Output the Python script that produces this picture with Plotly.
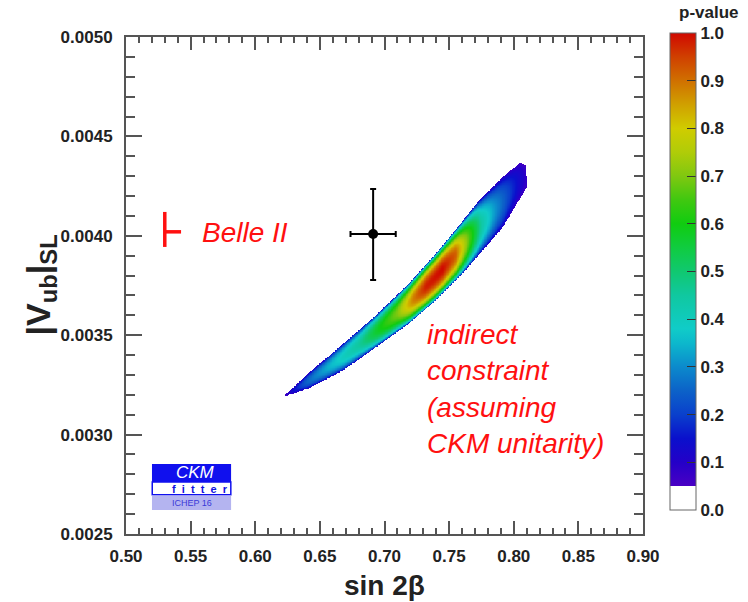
import numpy as np
import plotly.graph_objects as go

# ---- data ----
# boundary of the indirect-constraint region (p-value = 0.05 contour)
upper_x = [0.6215, 0.6416, 0.6679, 0.6934, 0.7190, 0.7398, 0.7545, 0.7723, 0.7917, 0.8048, 0.8095, 0.8105]
upper_y = [0.003189, 0.003310, 0.003456, 0.003600, 0.003760, 0.003910, 0.004025, 0.004170, 0.004296, 0.004366, 0.004356, 0.004247]
lower_x = [0.6215, 0.6416, 0.6679, 0.6934, 0.7190, 0.7398, 0.7607, 0.7917, 0.8105]
lower_y = [0.003189, 0.003232, 0.003322, 0.003438, 0.003558, 0.003675, 0.003811, 0.004042, 0.004247]
# p-value along the ridge of the region
ridge_x = [0.6215, 0.64, 0.66, 0.68, 0.695, 0.71, 0.722, 0.732, 0.745, 0.755, 0.765, 0.775, 0.785, 0.80, 0.8105]
ridge_p = [0.06, 0.25, 0.36, 0.45, 0.58, 0.70, 0.88, 0.98, 1.00, 0.92, 0.68, 0.45, 0.32, 0.17, 0.08]

# measurement point (black) with errors
meas_x = [0.6912]
meas_y = [0.004009]
meas_ex = [0.0175]
meas_ey_plus = [0.000226]
meas_ey_minus = [0.000231]

# Belle II marker
belle_x = [0.530, 0.530, None, 0.530, 0.5426]
belle_y = [0.003944, 0.004120, None, 0.00402, 0.00402]

cbar_ticks = [0.0, 0.1, 0.2, 0.3, 0.4, 0.5, 0.6, 0.7, 0.8, 0.9, 1.0]

# ---- build the p-value map ----
gx = np.linspace(0.615, 0.815, 361)
gy = np.linspace(0.00315, 0.0044, 401)
up = np.interp(gx, upper_x, upper_y)
lo = np.interp(gx, lower_x, lower_y)
g = np.interp(gx, ridge_x, ridge_p)
X, Y = np.meshgrid(gx, gy)
UP = up[None, :]
LO = lo[None, :]
G = g[None, :]
mid = (UP + LO) / 2
half = np.maximum((UP - LO) / 2, 1e-9)
t = (Y - mid) / half
inside = (np.abs(t) <= 1) & (X >= upper_x[0]) & (X <= upper_x[-1])
P = 0.05 + (G - 0.05) * np.clip(1 - t ** 2, 0, 1) ** 0.55
Z = np.where(inside, np.round(P, 3), np.nan)
z_list = [[None if np.isnan(v) else float(v) for v in row] for row in Z]

cscale = [
    [0.0, "#ffffff"], [0.0499, "#ffffff"],
    [0.05, "#4a00c4"], [0.10, "#2400c8"], [0.15, "#0a10cc"], [0.20, "#0a40cc"],
    [0.25, "#0c62c8"], [0.30, "#0c8acc"], [0.35, "#0cb8cc"], [0.38, "#10ccc8"],
    [0.45, "#10c8a0"], [0.50, "#10c870"], [0.55, "#10cc40"], [0.60, "#10cc10"],
    [0.65, "#40c810"], [0.70, "#80c810"], [0.75, "#b0cc08"], [0.80, "#d0cc00"],
    [0.85, "#d0a000"], [0.90, "#d07000"], [0.95, "#d04000"], [1.0, "#d00800"],
]

PW, PH = 517.0, 497.0  # plot area in pixels

fig = go.Figure()
fig.add_trace(go.Heatmap(
    x=gx, y=gy, z=z_list, zmin=0, zmax=1, colorscale=cscale, zsmooth=False,
    hoverinfo="skip",
    colorbar=dict(
        x=(670 - 126) / PW, xanchor="left",
        y=(534 - 33) / PH, yanchor="top",
        len=477 / PH, lenmode="fraction", thickness=26, thicknessmode="pixels",
        xpad=0, ypad=0, outlinecolor="#666", outlinewidth=1,
        tickvals=cbar_ticks, tickformat=".1f", ticks="inside", ticklen=9, tickcolor="#333",
        tickfont=dict(family="Liberation Sans", size=17, color="#222", weight="bold"),
    ),
))

fig.add_trace(go.Scatter(
    x=meas_x, y=meas_y, mode="markers",
    marker=dict(color="black", size=10),
    error_x=dict(type="data", array=meas_ex, color="black", thickness=2, width=3),
    error_y=dict(type="data", array=meas_ey_plus, arrayminus=meas_ey_minus, color="black", thickness=2, width=3),
    hoverinfo="skip", showlegend=False,
))
fig.add_trace(go.Scatter(
    x=belle_x, y=belle_y, mode="lines", line=dict(color="#ff1010", width=3.5),
    hoverinfo="skip", showlegend=False,
))

axis_common = dict(
    showgrid=False, zeroline=False, showline=True, linecolor="#555", linewidth=2,
    mirror="allticks", ticks="inside", tickcolor="#555", tickwidth=1.5,
    tickfont=dict(family="Liberation Sans", size=17, color="#222", weight="bold"),
)
fig.update_xaxes(range=[0.5, 0.9], dtick=0.05, tick0=0.5, tickformat=".2f", ticklen=13,
                 ticklabelstandoff=6,
                 minor=dict(dtick=0.01, ticks="inside", ticklen=6, tickcolor="#555"),
                 **axis_common)
fig.update_yaxes(range=[0.0025, 0.0050], dtick=0.0005, tick0=0.0025, tickformat=".4f", ticklen=16,
                 ticklabelstandoff=8,
                 minor=dict(dtick=0.0001, ticks="inside", ticklen=9, tickcolor="#555"),
                 **axis_common)

red = "#ff1010"
annotations = [
    dict(text="<b>p-value</b>", x=(709 - 126) / PW, y=(534 - 12) / PH, xref="paper", yref="paper",
         xanchor="center", yanchor="middle", showarrow=False, borderpad=0,
         font=dict(family="Liberation Sans", size=17, color="#222")),
    dict(text="Belle II", x=0.5575, y=0.004019, xref="x", yref="y", xanchor="left", yanchor="middle",
         showarrow=False, font=dict(family="Liberation Sans", size=28, color=red, style="italic")),
    dict(text="indirect<br>constraint<br>(assuming<br>CKM unitarity)", x=0.7315, y=0.003229,
         xref="x", yref="y", xanchor="left", yanchor="middle", align="left",
         showarrow=False, font=dict(family="Liberation Sans", size=28, color=red, style="italic")),
    dict(text="<b>|V<sub>ub</sub>|<sub>SL</sub></b>", x=(40 - 126) / PW, y=0.5, xref="paper", yref="paper",
         textangle=-90, xanchor="center", yanchor="middle", showarrow=False,
         font=dict(family="Liberation Sans", size=34, color="#222")),
    dict(text="<b>sin 2β</b>", x=0.5, y=(534 - 585) / PH, xref="paper", yref="paper",
         xanchor="center", yanchor="middle", showarrow=False,
         font=dict(family="Liberation Sans", size=28, color="#222")),
    # CKMfitter logo
    dict(text="<i>CKM</i>", x=0.5540, y=0.002810, xref="x", yref="y", xanchor="center", yanchor="middle",
         showarrow=False, borderpad=0, font=dict(family="Liberation Sans", size=17, color="white")),
    dict(text="<b>f  i  t  t  e  r</b>", x=0.5795, y=0.002728, xref="x", yref="y", xanchor="right", yanchor="middle",
         showarrow=False, borderpad=0, font=dict(family="Liberation Sans", size=11, color="#1010e0")),
    dict(text="ICHEP 16", x=0.5507, y=0.002657, xref="x", yref="y", xanchor="center", yanchor="middle",
         showarrow=False, borderpad=0, font=dict(family="Liberation Sans", size=9, color="#3a3ad8")),
]

shapes = [
    dict(type="rect", xref="x", yref="y", x0=0.5201, x1=0.5813, y0=0.002762, y1=0.002852,
         fillcolor="#1010ee", line=dict(width=0), layer="above"),
    dict(type="rect", xref="x", yref="y", x0=0.5203, x1=0.5811, y0=0.002698, y1=0.002762,
         fillcolor="white", line=dict(width=1.5, color="#1010ee"), layer="above"),
    dict(type="rect", xref="x", yref="y", x0=0.5201, x1=0.5813, y0=0.002621, y1=0.002694,
         fillcolor="#b4b4f0", line=dict(width=0), layer="above"),
]

fig.update_layout(
    width=748, height=602, margin=dict(l=126, r=105, t=37, b=68),
    paper_bgcolor="white", plot_bgcolor="white", showlegend=False,
    annotations=annotations, shapes=shapes,
)
fig.write_html("out.html")
